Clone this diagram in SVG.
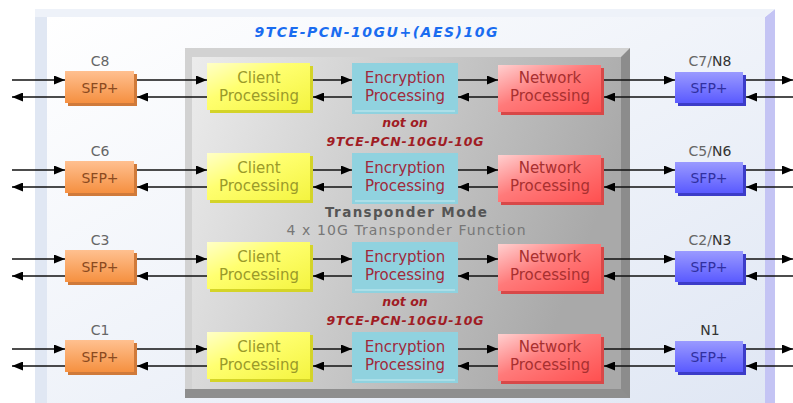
<svg xmlns="http://www.w3.org/2000/svg" width="793" height="403" viewBox="0 0 793 403">
<style>
.t{font-family:"DejaVu Sans","Liberation Sans",sans-serif;text-anchor:middle}
.lbl{font-size:14px;fill:#666}
.lblb{fill:#333}
.cl{font-size:15px;fill:#9a9a2a}
.en{font-size:15px;fill:#a02a3c}
.nw{font-size:15px;fill:#a83030}
.sl{font-size:14px;fill:#8a4a20}
.sr{font-size:14px;fill:#3030a0}
.note{font-size:12.5px;font-weight:bold;font-style:italic;fill:#a01c24}
.ln{stroke:#111;stroke-width:1.6;fill:none}
</style>
<defs>
<marker id="ah" viewBox="0 0 11 9" refX="11" refY="4.5" markerWidth="11" markerHeight="9" markerUnits="userSpaceOnUse" orient="auto">
<path d="M0,0 L11,4.5 L0,9 Z" fill="#000"/>
</marker>
<linearGradient id="panel" x1="0" y1="0" x2="1" y2="1">
<stop offset="0" stop-color="#ffffff"/><stop offset="1" stop-color="#e0e7f4"/>
</linearGradient>
<linearGradient id="gray" x1="0" y1="0" x2="1" y2="0.3">
<stop offset="0" stop-color="#ececec"/><stop offset="1" stop-color="#a9a9a9"/>
</linearGradient>
<linearGradient id="yel" x1="0" y1="0" x2="1" y2="1">
<stop offset="0" stop-color="#ffffc8"/><stop offset="0.4" stop-color="#ffff70"/><stop offset="1" stop-color="#f4f440"/>
</linearGradient>
<linearGradient id="red" x1="0" y1="0" x2="1" y2="1">
<stop offset="0" stop-color="#ffd0d0"/><stop offset="0.45" stop-color="#ff7a7a"/><stop offset="1" stop-color="#ff5050"/>
</linearGradient>
<linearGradient id="org" x1="0" y1="0" x2="0" y2="1">
<stop offset="0" stop-color="#ffc090"/><stop offset="1" stop-color="#f59040"/>
</linearGradient>
<linearGradient id="blu" x1="0" y1="0" x2="0" y2="1">
<stop offset="0" stop-color="#9a9aff"/><stop offset="1" stop-color="#5a5aff"/>
</linearGradient>
</defs>

<g id="panel-bg">
<rect x="35" y="9" width="730" height="394" fill="#e0e7f3"/>
<rect x="47" y="17" width="718" height="386" fill="url(#panel)"/>
<polygon points="765,17 775,9 775,403 765,403" fill="#c4c4f4"/>
<polygon points="35,9 775,9 765,17 35,17" fill="#eef2f9"/>
<text class="t" x="376" y="37" font-size="14" font-weight="bold" font-style="italic" fill="#1a6cf0" textLength="243" lengthAdjust="spacing">9TCE-PCN-10GU+(AES)10G</text>
</g>

<g id="transponder">
<rect x="185" y="48" width="445" height="350" fill="#d2d2d2"/>
<rect x="192" y="57" width="429" height="332" fill="url(#gray)"/>
<polygon points="621,57 630,48 630,398 621,398" fill="#8c8c8c"/>
<polygon points="185,389 621,389 630,398 185,398" fill="#8e8e8e"/>
<text class="t" x="406" y="217" font-size="13.5" font-weight="bold" fill="#555" textLength="162" lengthAdjust="spacing">Transponder Mode</text>
<text class="t" x="406" y="235" font-size="14" fill="#777" textLength="239" lengthAdjust="spacing">4 x 10G Transponder Function</text>
<text class="t note" x="405" y="127">not on</text>
<text class="t note" x="405" y="146" textLength="157" lengthAdjust="spacing">9TCE-PCN-10GU-10G</text>
<text class="t note" x="405" y="306">not on</text>
<text class="t note" x="405" y="325" textLength="157" lengthAdjust="spacing">9TCE-PCN-10GU-10G</text>
</g>

<g id="connectors">
<g class="ln" marker-end="url(#ah)">
<path d="M12,80H65"/><path d="M137,80H207"/><path d="M313,80H352"/><path d="M458,80H498"/><path d="M604,80H675"/><path d="M746,80H793"/>
<path d="M65,97H12"/><path d="M207,97H137"/><path d="M352,97H313"/><path d="M498,97H458"/><path d="M675,97H604"/><path d="M793,97H746"/>
<path d="M12,170H65"/><path d="M137,170H207"/><path d="M313,170H352"/><path d="M458,170H498"/><path d="M604,170H675"/><path d="M746,170H793"/>
<path d="M65,187H12"/><path d="M207,187H137"/><path d="M352,187H313"/><path d="M498,187H458"/><path d="M675,187H604"/><path d="M793,187H746"/>
<path d="M12,259H65"/><path d="M137,259H207"/><path d="M313,259H352"/><path d="M458,259H498"/><path d="M604,259H675"/><path d="M746,259H793"/>
<path d="M65,276H12"/><path d="M207,276H137"/><path d="M352,276H313"/><path d="M498,276H458"/><path d="M675,276H604"/><path d="M793,276H746"/>
<path d="M12,349H65"/><path d="M137,349H207"/><path d="M313,349H352"/><path d="M458,349H498"/><path d="M604,349H675"/><path d="M746,349H793"/>
<path d="M65,366H12"/><path d="M207,366H137"/><path d="M352,366H313"/><path d="M498,366H458"/><path d="M675,366H604"/><path d="M793,366H746"/>
</g>
</g>

<g id="row1" transform="translate(0,88)">
<g id="sfp-c8">
<text class="t lbl" x="100" y="-22">C8</text>
<polygon points="68,-14 137,-14 137,18 68,18" fill="#d07a3a"/>
<rect x="65" y="-17" width="69" height="32" fill="url(#org)"/>
<text class="t sl" x="100" y="5">SFP+</text>
</g>
<g id="client-1">
<polygon points="210,-22 313,-22 313,25 210,25" fill="#d4d428"/>
<rect x="207" y="-25" width="103" height="47" fill="url(#yel)"/>
<text class="t cl" x="259" y="-5">Client</text><text class="t cl" x="259" y="13">Processing</text>
</g>
<g id="enc-1">
<rect x="352" y="-25" width="106" height="51" fill="#90d2df"/>
<path d="M355,23H455" stroke="#c8ecf2" stroke-width="1"/>
<text class="t en" x="405" y="-5">Encryption</text><text class="t en" x="405" y="13">Processing</text>
</g>
<g id="net-1">
<polygon points="501,-20 604,-20 604,27 501,27" fill="#d84848"/>
<rect x="498" y="-23" width="103" height="47" fill="url(#red)"/>
<text class="t nw" x="550" y="-5">Network</text><text class="t nw" x="550" y="13">Processing</text>
</g>
<g id="sfp-n8">
<text class="t lbl" x="710" y="-22">C7/<tspan class="lblb">N8</tspan></text>
<polygon points="678,-13 746,-13 746,18 678,18" fill="#3c3cc8"/>
<rect x="675" y="-16" width="68" height="31" fill="url(#blu)"/>
<text class="t sr" x="709" y="5">SFP+</text>
</g>
</g>

<g id="row2" transform="translate(0,178)">
<g id="sfp-c6">
<text class="t lbl" x="100" y="-22">C6</text>
<polygon points="68,-14 137,-14 137,18 68,18" fill="#d07a3a"/>
<rect x="65" y="-17" width="69" height="32" fill="url(#org)"/>
<text class="t sl" x="100" y="5">SFP+</text>
</g>
<g id="client-2">
<polygon points="210,-22 313,-22 313,25 210,25" fill="#d4d428"/>
<rect x="207" y="-25" width="103" height="47" fill="url(#yel)"/>
<text class="t cl" x="259" y="-5">Client</text><text class="t cl" x="259" y="13">Processing</text>
</g>
<g id="enc-2">
<rect x="352" y="-25" width="106" height="51" fill="#90d2df"/>
<path d="M355,23H455" stroke="#c8ecf2" stroke-width="1"/>
<text class="t en" x="405" y="-5">Encryption</text><text class="t en" x="405" y="13">Processing</text>
</g>
<g id="net-2">
<polygon points="501,-20 604,-20 604,27 501,27" fill="#d84848"/>
<rect x="498" y="-23" width="103" height="47" fill="url(#red)"/>
<text class="t nw" x="550" y="-5">Network</text><text class="t nw" x="550" y="13">Processing</text>
</g>
<g id="sfp-n6">
<text class="t lbl" x="710" y="-22">C5/<tspan class="lblb">N6</tspan></text>
<polygon points="678,-13 746,-13 746,18 678,18" fill="#3c3cc8"/>
<rect x="675" y="-16" width="68" height="31" fill="url(#blu)"/>
<text class="t sr" x="709" y="5">SFP+</text>
</g>
</g>

<g id="row3" transform="translate(0,267)">
<g id="sfp-c3">
<text class="t lbl" x="100" y="-22">C3</text>
<polygon points="68,-14 137,-14 137,18 68,18" fill="#d07a3a"/>
<rect x="65" y="-17" width="69" height="32" fill="url(#org)"/>
<text class="t sl" x="100" y="5">SFP+</text>
</g>
<g id="client-3">
<polygon points="210,-22 313,-22 313,25 210,25" fill="#d4d428"/>
<rect x="207" y="-25" width="103" height="47" fill="url(#yel)"/>
<text class="t cl" x="259" y="-5">Client</text><text class="t cl" x="259" y="13">Processing</text>
</g>
<g id="enc-3">
<rect x="352" y="-25" width="106" height="51" fill="#90d2df"/>
<path d="M355,23H455" stroke="#c8ecf2" stroke-width="1"/>
<text class="t en" x="405" y="-5">Encryption</text><text class="t en" x="405" y="13">Processing</text>
</g>
<g id="net-3">
<polygon points="501,-20 604,-20 604,27 501,27" fill="#d84848"/>
<rect x="498" y="-23" width="103" height="47" fill="url(#red)"/>
<text class="t nw" x="550" y="-5">Network</text><text class="t nw" x="550" y="13">Processing</text>
</g>
<g id="sfp-n3">
<text class="t lbl" x="710" y="-22">C2/<tspan class="lblb">N3</tspan></text>
<polygon points="678,-13 746,-13 746,18 678,18" fill="#3c3cc8"/>
<rect x="675" y="-16" width="68" height="31" fill="url(#blu)"/>
<text class="t sr" x="709" y="5">SFP+</text>
</g>
</g>

<g id="row4" transform="translate(0,357)">
<g id="sfp-c1">
<text class="t lbl" x="100" y="-22">C1</text>
<polygon points="68,-14 137,-14 137,18 68,18" fill="#d07a3a"/>
<rect x="65" y="-17" width="69" height="32" fill="url(#org)"/>
<text class="t sl" x="100" y="5">SFP+</text>
</g>
<g id="client-4">
<polygon points="210,-22 313,-22 313,25 210,25" fill="#d4d428"/>
<rect x="207" y="-25" width="103" height="47" fill="url(#yel)"/>
<text class="t cl" x="259" y="-5">Client</text><text class="t cl" x="259" y="13">Processing</text>
</g>
<g id="enc-4">
<rect x="352" y="-25" width="106" height="51" fill="#90d2df"/>
<path d="M355,23H455" stroke="#c8ecf2" stroke-width="1"/>
<text class="t en" x="405" y="-5">Encryption</text><text class="t en" x="405" y="13">Processing</text>
</g>
<g id="net-4">
<polygon points="501,-20 604,-20 604,27 501,27" fill="#d84848"/>
<rect x="498" y="-23" width="103" height="47" fill="url(#red)"/>
<text class="t nw" x="550" y="-5">Network</text><text class="t nw" x="550" y="13">Processing</text>
</g>
<g id="sfp-n1">
<text class="t lbl lblb" x="710" y="-22">N1</text>
<polygon points="678,-13 746,-13 746,18 678,18" fill="#3c3cc8"/>
<rect x="675" y="-16" width="68" height="31" fill="url(#blu)"/>
<text class="t sr" x="709" y="5">SFP+</text>
</g>
</g>
</svg>
